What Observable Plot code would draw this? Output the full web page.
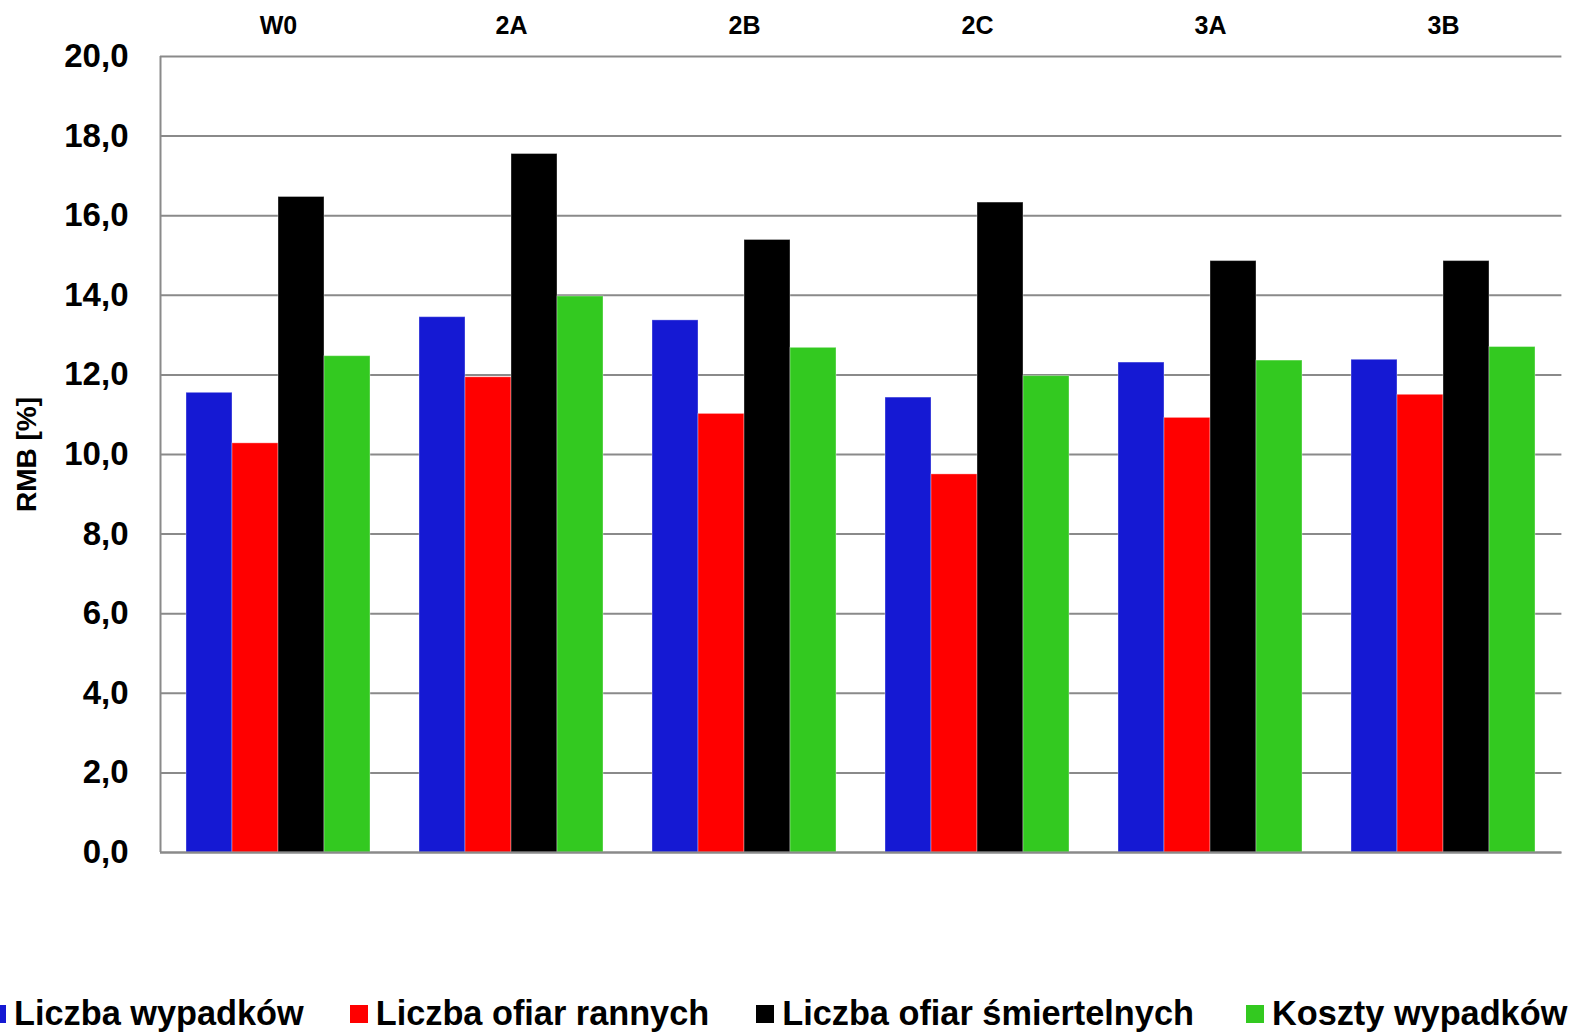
<!DOCTYPE html>
<html>
<head>
<meta charset="utf-8">
<script src="https://cdn.jsdelivr.net/npm/d3@7"></script>
<script src="https://cdn.jsdelivr.net/npm/@observablehq/plot@0.6"></script>
<style>
  html, body { margin: 0; padding: 0; background: #fff; }
  body { width: 1574px; height: 1034px; position: relative; overflow: hidden;
         font-family: "Liberation Sans", Arial, sans-serif; font-weight: bold; }
  .layer { position: absolute; left: 0; top: 0; }
  #legend { position: absolute; left: -12px; top: 993px; display: flex; align-items: flex-start;
            font-size: 34.3px; line-height: 40px; color: #000; white-space: nowrap; }
  #legend .item { display: flex; align-items: flex-start; }
  #legend .swatch { width: 18px; height: 18px; margin-top: 12px; margin-right: 8px; }
</style>
</head>
<body>
<div id="grid" class="layer"></div>
<div id="bars" class="layer"></div>
<div id="base" class="layer"></div>
<div id="legend"></div>
<script>
// Scenarios along the top, one group of four bars each
const categories = ["W0", "2A", "2B", "2C", "3A", "3B"];
const seriesNames = ["Liczba wypadków", "Liczba ofiar rannych", "Liczba ofiar śmiertelnych", "Koszty wypadków"];
const seriesColors = ["#1519d3", "#ff0000", "#000000", "#33c920"];

// RMB [%] per scenario
const liczbaWypadkow = [11.55, 13.45, 13.37, 11.43, 12.31, 12.38];
const liczbaRannych = [10.28, 11.94, 11.02, 9.50, 10.92, 11.50];
const liczbaSmiertelnych = [16.47, 17.55, 15.39, 16.33, 14.86, 14.86];
const kosztyWypadkow = [12.47, 13.97, 12.68, 11.97, 12.36, 12.70];

const yTicks = [0, 2, 4, 6, 8, 10, 12, 14, 16, 18, 20];

const seriesValues = [liczbaWypadkow, liczbaRannych, liczbaSmiertelnych, kosztyWypadkow];
const rows = categories.flatMap((category, i) =>
  seriesNames.map((series, s) => ({category, series, value: seriesValues[s][i]}))
);

const fmt = d => d.toFixed(1).replace(".", ",");
const gray = "#8a8a8a";

// Shared frame so all layers line up
const frame = {
  width: 1574,
  height: 990,
  marginLeft: 160,
  marginRight: 12.6,
  marginTop: 56,
  marginBottom: 138
};
const font = {fontFamily: "'Liberation Sans', Arial, sans-serif", fontWeight: "bold", color: "#000"};

// Back layer: horizontal gridlines across the whole plot, left edge, value axis
const grid = Plot.plot({
  ...frame,
  style: {...font, background: "#fff"},
  x: {domain: [0, 1], axis: null},
  y: {domain: [0, 20], axis: null},
  marks: [
    Plot.ruleY(yTicks, {stroke: gray, strokeWidth: 2}),
    Plot.ruleX([0], {stroke: gray, strokeWidth: 2}),
    Plot.axisY({
      ticks: yTicks, tickFormat: fmt, tickSize: 0, tickPadding: 32, fontSize: 33,
      label: "RMB [%]", labelAnchor: "center", labelOffset: 144, labelArrow: "none"
    })
  ]
});
grid.querySelectorAll("[aria-label='y-axis label'] text, [aria-label='y-axis label']").forEach(el => el.setAttribute("font-size", 28));
document.getElementById("grid").append(grid);

// Front layer: grouped bars, one facet per scenario
const bars = Plot.plot({
  ...frame,
  style: {...font, background: "transparent"},
  fx: {domain: categories, paddingInner: 0.2, paddingOuter: 0.1},
  x: {domain: seriesNames, padding: 0, axis: null},
  y: {domain: [0, 20], axis: null},
  color: {domain: seriesNames, range: seriesColors},
  marks: [
    Plot.barY(rows, {
      fx: "category", x: "series", y: "value", fill: "series",
      stroke: "#ffffff", strokeOpacity: 0.35, strokeWidth: 1
    }),
    Plot.axisFx({anchor: "top", tickSize: 0, tickPadding: 23, fontSize: 25, label: null})
  ]
});
document.getElementById("bars").append(bars);

// Baseline drawn on top of the bars
const base = Plot.plot({
  ...frame,
  style: {background: "transparent"},
  x: {domain: [0, 1], axis: null},
  y: {domain: [0, 20], axis: null},
  marks: [Plot.ruleY([0], {stroke: gray, strokeWidth: 2})]
});
document.getElementById("base").append(base);

// Legend row below the plot
const legendGaps = [0, 46, 47, 52];
const legend = d3.select("#legend");
seriesNames.forEach((name, i) => {
  const item = legend.append("div").attr("class", "item").style("margin-left", legendGaps[i] + "px");
  item.append("div").attr("class", "swatch").style("background", seriesColors[i]);
  item.append("span").text(name);
});
</script>
</body>
</html>
